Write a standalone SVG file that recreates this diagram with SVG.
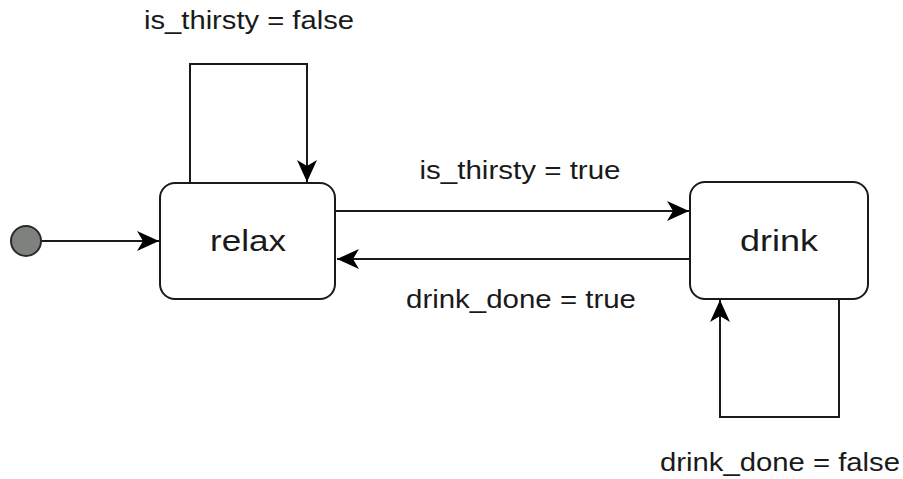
<svg xmlns="http://www.w3.org/2000/svg" width="903" height="479" viewBox="0 0 903 479">
  <style>
    .state { fill: #ffffff; stroke: #1a1a1a; stroke-width: 2; }
    .start { fill: #7f827c; stroke: #2a2a2a; stroke-width: 2; }
    .edge { fill: none; stroke: #1a1a1a; stroke-width: 2; marker-end: url(#arrow); }
    .name { font-family: "Liberation Sans", Arial, sans-serif; font-size: 30px; fill: #1a1a1a; text-anchor: middle; }
    .label { font-family: "Liberation Sans", Arial, sans-serif; font-size: 25px; fill: #1a1a1a; text-anchor: middle; }
  </style>
  <defs>
    <marker id="arrow" viewBox="0 0 22 20" refX="22" refY="10" markerWidth="22" markerHeight="20" markerUnits="userSpaceOnUse" orient="auto">
      <path d="M22,10 L0,0 L6,10 L0,20 Z" fill="#000000"/>
    </marker>
  </defs>
  <rect width="903" height="479" fill="#ffffff"/>

  <g id="connectors">
    <path class="edge" d="M41,241 H159"/>
    <path class="edge" d="M336,211 H689"/>
    <path class="edge" d="M690,259 H337"/>
    <path class="edge" d="M190,183 V64 H307 V182"/>
    <path class="edge" d="M839,299 V417 H720 V300"/>
  </g>

  <g id="labels">
    <text class="label" x="249" y="29" textLength="210" lengthAdjust="spacingAndGlyphs">is_thirsty = false</text>
    <text class="label" x="520" y="179" textLength="201" lengthAdjust="spacingAndGlyphs">is_thirsty = true</text>
    <text class="label" x="521" y="308" textLength="230" lengthAdjust="spacingAndGlyphs">drink_done = true</text>
    <text class="label" x="780" y="471" textLength="240" lengthAdjust="spacingAndGlyphs">drink_done = false</text>
  </g>

  <g id="start">
    <circle class="start" cx="26" cy="241" r="15"/>
  </g>

  <g id="relax">
    <rect class="state" x="160" y="183" width="175" height="116" rx="15" ry="15"/>
    <text class="name" x="248" y="251" textLength="76" lengthAdjust="spacingAndGlyphs">relax</text>
  </g>

  <g id="drink">
    <rect class="state" x="690" y="182" width="178" height="117" rx="15" ry="15"/>
    <text class="name" x="779" y="251" textLength="78" lengthAdjust="spacingAndGlyphs">drink</text>
  </g>
</svg>
